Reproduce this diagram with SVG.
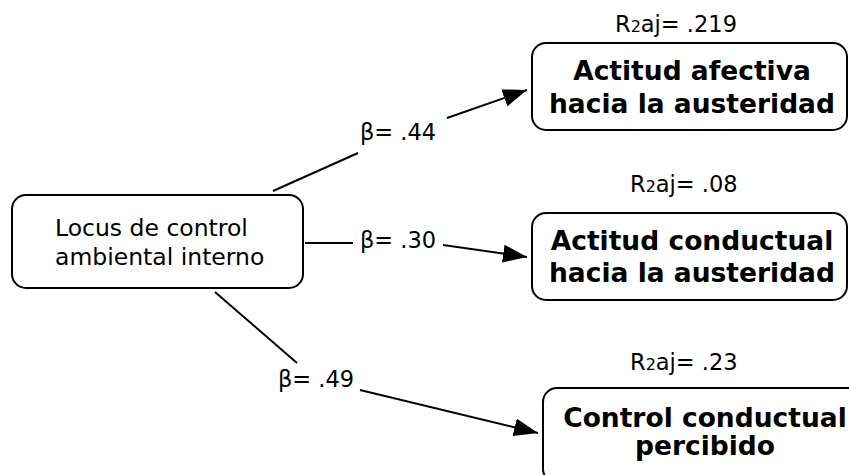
<svg xmlns="http://www.w3.org/2000/svg" width="849" height="475" viewBox="0 0 849 475">
<style>
.box{fill:#fff;stroke:#000;stroke-width:2}
.src{font-family:"DejaVu Sans","Liberation Sans",sans-serif;font-size:23.5px;fill:#000}
.tgt{font-family:"DejaVu Sans","Liberation Sans",sans-serif;font-size:26.5px;font-weight:bold;fill:#000;text-anchor:middle}
.lbl{font-family:"DejaVu Sans","Liberation Sans",sans-serif;font-size:22.5px;fill:#000}
.conn line{stroke:#000;stroke-width:2}
</style>
<defs>
<marker id="arr" viewBox="0 0 24 18" refX="24" refY="9" markerWidth="24" markerHeight="18" markerUnits="userSpaceOnUse" orient="auto">
<path d="M0,0 L24,9 L0,18 z" fill="#000"/>
</marker>
</defs>
<g id="source">
<rect class="box" x="12" y="195" width="291" height="93" rx="14"/>
<text class="src" x="55" y="236">Locus de control</text>
<text class="src" x="55" y="265">ambiental interno</text>
</g>
<g id="afectiva">
<rect class="box" x="532" y="43" width="315" height="87" rx="14"/>
<text class="tgt" x="692" y="80">Actitud afectiva</text>
<text class="tgt" x="692" y="113">hacia la austeridad</text>
<text class="lbl" x="615" y="32">R<tspan font-size="16">2</tspan>aj= .219</text>
</g>
<g id="conductual">
<rect class="box" x="532" y="213" width="315" height="87" rx="14"/>
<text class="tgt" x="692" y="250">Actitud conductual</text>
<text class="tgt" x="692" y="282">hacia la austeridad</text>
<text class="lbl" x="630" y="192">R<tspan font-size="16">2</tspan>aj= .08</text>
</g>
<g id="control">
<rect class="box" x="543" y="388" width="320" height="95" rx="14"/>
<text class="tgt" x="705" y="427">Control conductual</text>
<text class="tgt" x="705" y="455">percibido</text>
<text class="lbl" x="630" y="370">R<tspan font-size="16">2</tspan>aj= .23</text>
</g>
<g id="connectors" class="conn">
<line x1="273" y1="191" x2="358" y2="153"/>
<line x1="447" y1="118" x2="527" y2="90" marker-end="url(#arr)"/>
<text class="lbl" x="360" y="140">β= .44</text>
<line x1="305" y1="243" x2="353" y2="243"/>
<line x1="443" y1="245" x2="527" y2="257" marker-end="url(#arr)"/>
<text class="lbl" x="360" y="248">β= .30</text>
<line x1="215" y1="292" x2="297" y2="363"/>
<line x1="360" y1="390" x2="538" y2="433" marker-end="url(#arr)"/>
<text class="lbl" x="278" y="387">β= .49</text>
</g>
</svg>
